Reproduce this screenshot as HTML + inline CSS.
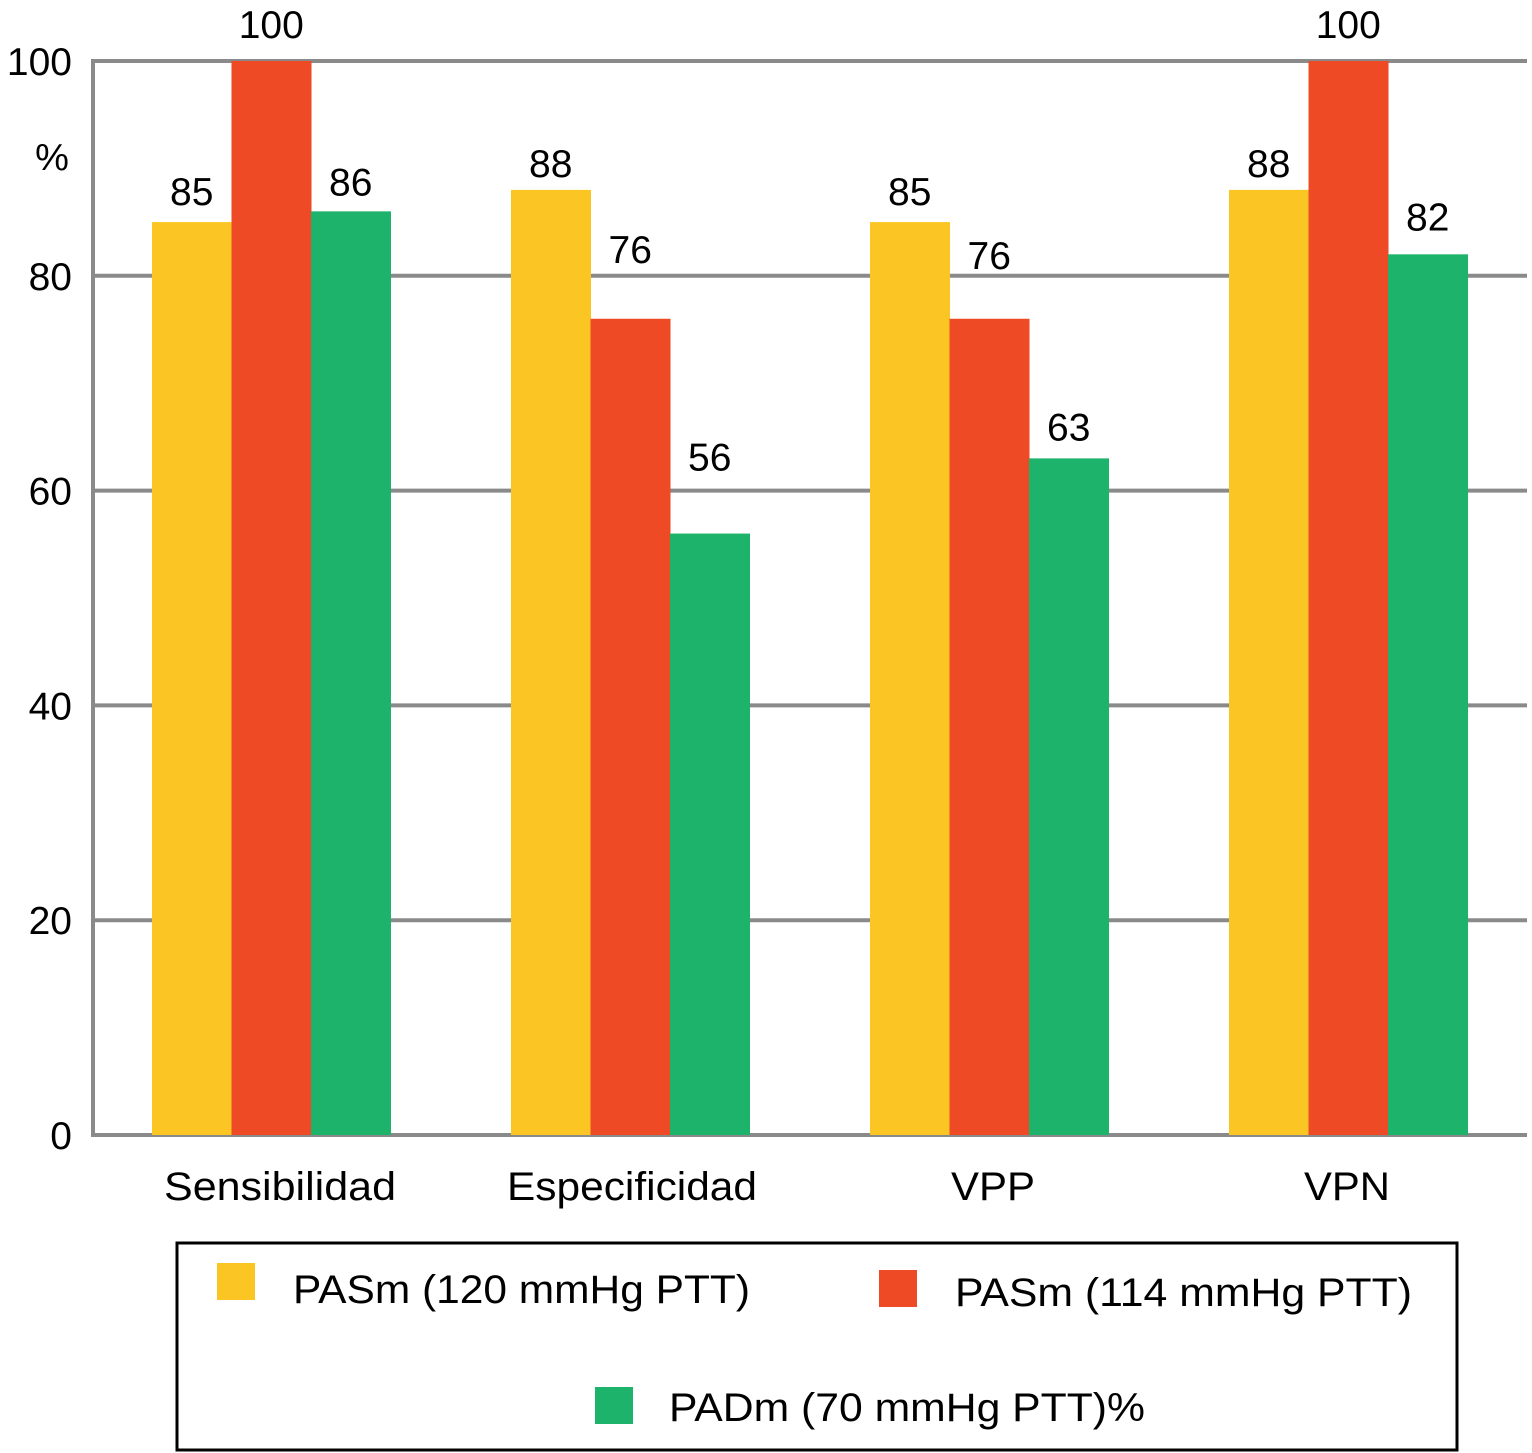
<!DOCTYPE html>
<html><head><meta charset="utf-8"><style>
html,body{margin:0;padding:0;background:#fff;}
svg{display:block;font-family:"Liberation Sans",Arial,sans-serif;}
</style></head><body>
<svg id="chart" width="1532" height="1453" viewBox="0 0 1532 1453">
<g id="grid"></g><g id="bars"></g><g id="labels"></g>
<g>
<rect x="177" y="1243" width="1280" height="207" fill="none" stroke="#000" stroke-width="3"/>
<rect x="217" y="1263" width="38" height="37" fill="#FBC623"/>
<text x="293" y="1303" font-size="40" textLength="457" lengthAdjust="spacingAndGlyphs">PASm (120 mmHg PTT)</text>
<rect x="879" y="1270" width="38" height="37" fill="#EE4A25"/>
<text x="955" y="1306" font-size="40" textLength="457" lengthAdjust="spacingAndGlyphs">PASm (114 mmHg PTT)</text>
<rect x="595" y="1387" width="38" height="37" fill="#1DB36B"/>
<text x="669" y="1421" font-size="40" textLength="476" lengthAdjust="spacingAndGlyphs">PADm (70 mmHg PTT)%</text>
</g>
</svg>
<script>
const categories=["Sensibilidad","Especificidad","VPP","VPN"];
const seriesA=[85,88,85,88];
const seriesB=[100,76,76,100];
const seriesC=[86,56,63,82];
const yTicks=[0,20,40,60,80,100];
const colors=["#FBC623","#EE4A25","#1DB36B"];
const labelGap=[[17,13,17,13],[23,56,50,23],[16,63,18,24]];
const catWidths=[232,250,84,86];
const NS="http://www.w3.org/2000/svg";
const y0=1135,y100=61;
function y(v){return y0-(y0-y100)*v/100;}
function gx(i){return 152+i*359;}
const bw=79.5;
const grid=document.getElementById('grid'),bars=document.getElementById('bars'),labels=document.getElementById('labels');
function mk(tag,attrs,parent,text){const e=document.createElementNS(NS,tag);for(const k in attrs)e.setAttribute(k,attrs[k]);if(text!==undefined)e.textContent=text;parent.appendChild(e);return e;}
yTicks.forEach(t=>{
 const l=mk('line',{x1:93,x2:1527,y1:y(t),y2:y(t),stroke:'#8a8a8a','stroke-width':4},grid);
 
 
 const tx=mk('text',{x:72,y:y(t)+14,'font-size':39,'text-anchor':'end'},labels,String(t));
 
 
});
const ax=mk('line',{x1:93,x2:93,y1:59,y2:1137,stroke:'#8a8a8a','stroke-width':4},grid);


const pc=mk('text',{x:52,y:170,'font-size':38,'text-anchor':'middle'},labels,'%');


const series=[seriesA,seriesB,seriesC];
categories.forEach((c,i)=>{
 series.forEach((s,j)=>{
  const x=gx(i)+j*bw;
  const r=mk('rect',{x:x,y:y(s[i]),width:bw+0.5,height:y0-y(s[i]),fill:colors[j]},bars);
  
  
  const t=mk('text',{x:x+bw/2,y:y(s[i])-labelGap[j][i],'font-size':39,'text-anchor':'middle'},labels,String(s[i]));
  
  
 });
 const cx=[280,632,993,1347][i];
 const ct=mk('text',{x:cx,y:1200,'font-size':40,'text-anchor':'middle',textLength:catWidths[i],lengthAdjust:'spacingAndGlyphs'},labels,c);
 
 
});
</script>
</body></html>
